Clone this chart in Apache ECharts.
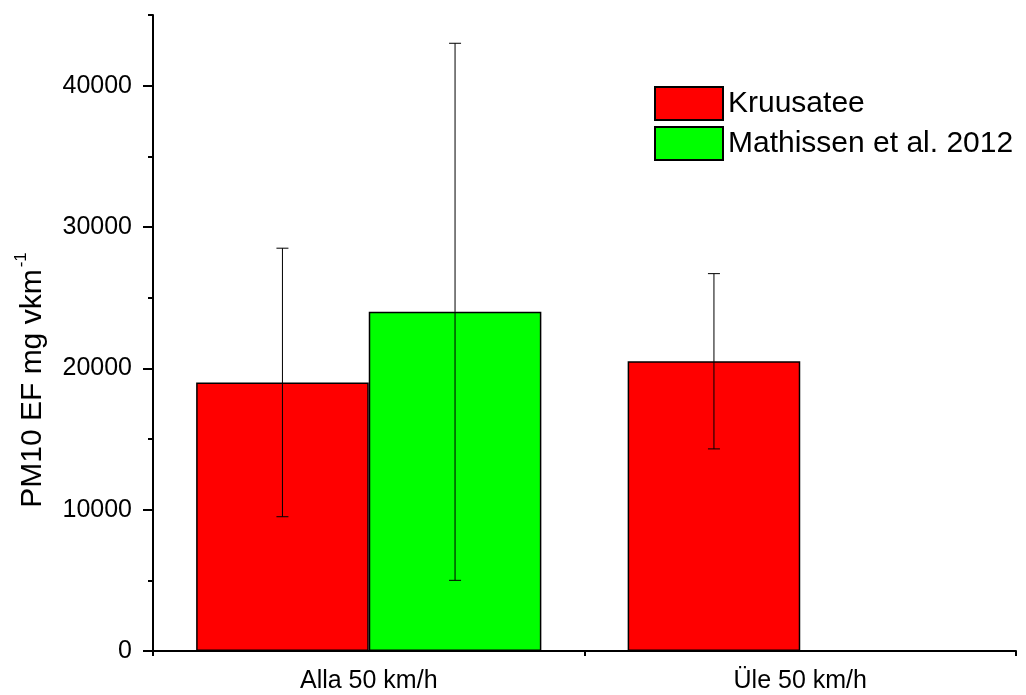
<!DOCTYPE html>
<html>
<head>
<meta charset="utf-8">
<script src="https://cdn.jsdelivr.net/npm/echarts@6/dist/echarts.min.js"></script>
<style>html,body{margin:0;padding:0;background:#fff}#c{width:1026px;height:695px}</style>
</head>
<body>
<div id="c"></div>
<script>
const categories = ['Alla 50 km/h', 'Üle 50 km/h'];
const kruusatee = [19000, 20500];
const kruusateeLow = [9500, 14300];
const kruusateeHigh = [28500, 26700];
const mathissen = [24000, null];
const mathissenLow = [5000, null];
const mathissenHigh = [43000, null];
const yMajorTicks = [0, 10000, 20000, 30000, 40000];
const yMinorTicks = [5000, 15000, 25000, 35000, 45000];
const seriesNames = ['Kruusatee', 'Mathissen et al. 2012'];

const FONT = 'Arial, "Liberation Sans", sans-serif';
const chart = echarts.init(document.getElementById('c'));

function errData(lo, hi) {
  const out = [];
  for (let i = 0; i < lo.length; i++) {
    if (lo[i] != null && hi[i] != null) out.push([i, lo[i], hi[i]]);
  }
  return out;
}
function errSeries(lo, hi, frac) {
  return {
    type: 'custom',
    xAxisIndex: 0, yAxisIndex: 0,
    z: 10,
    silent: true,
    data: errData(lo, hi),
    renderItem: function (params, api) {
      const cat = api.value(0);
      const pLo = api.coord([cat, api.value(1)]);
      const pHi = api.coord([cat, api.value(2)]);
      const catW = api.size([1, 0])[0];
      const x = pLo[0] + frac * catW;
      const cap = 6;
      const st = { stroke: '#000', lineWidth: 1 };
      return {
        type: 'group',
        children: [
          { type: 'line', shape: { x1: x, y1: pLo[1], x2: x, y2: pHi[1] }, style: st },
          { type: 'line', shape: { x1: x - cap, y1: pLo[1], x2: x + cap, y2: pLo[1] }, style: st },
          { type: 'line', shape: { x1: x - cap, y1: pHi[1], x2: x + cap, y2: pHi[1] }, style: st }
        ]
      };
    }
  };
}

const gridPos = { left: 153, right: 10, top: 15, bottom: 44, containLabel: false };

chart.setOption({
  animation: false,
  backgroundColor: '#fff',
  textStyle: { fontFamily: FONT, color: '#000' },
  grid: [Object.assign({}, gridPos), Object.assign({}, gridPos)],
  legend: {
    data: seriesNames,
    orient: 'vertical',
    left: 649, top: 81,
    itemWidth: 68, itemHeight: 33, itemGap: 5,
    icon: 'rect',
    textStyle: { fontSize: 30, color: '#000', fontFamily: FONT }
  },
  xAxis: [
    {
      type: 'category', gridIndex: 0, data: categories,
      axisLine: { lineStyle: { color: '#000', width: 2 } },
      axisTick: { alignWithLabel: true, length: 10, lineStyle: { color: '#000', width: 2 } },
      axisLabel: { fontSize: 25, color: '#000', fontFamily: FONT, margin: 18 },
      splitLine: { show: false }
    },
    {
      type: 'value', gridIndex: 1, min: 0, max: 2, interval: 1,
      axisLine: { show: false },
      axisTick: { length: 5, lineStyle: { color: '#000', width: 2 } },
      axisLabel: { show: false },
      splitLine: { show: false }
    }
  ],
  yAxis: [
    {
      type: 'value', gridIndex: 0, min: 0, max: 45000, interval: 10000,
      axisLine: { show: true, lineStyle: { color: '#000', width: 2 } },
      axisTick: { show: true, length: 10, customValues: yMajorTicks, lineStyle: { color: '#000', width: 2 } },
      axisLabel: {
        fontSize: 25, color: '#000', fontFamily: FONT, margin: 21, customValues: yMajorTicks,
        formatter: function (v) { return String(v); }
      },
      splitLine: { show: false }
    },
    {
      type: 'value', gridIndex: 1, min: 0, max: 45000,
      axisLine: { show: false },
      axisTick: { show: true, length: 5, customValues: yMinorTicks, lineStyle: { color: '#000', width: 2 } },
      axisLabel: { show: false },
      splitLine: { show: false }
    }
  ],
  graphic: [{
    type: 'text',
    x: 33, y: 380,
    rotation: Math.PI / 2,
    style: {
      text: '{a|PM10 EF mg vkm}{b|-1}',
      align: 'center', verticalAlign: 'middle',
      fill: '#000',
      rich: {
        a: { fontSize: 30, fontFamily: FONT, fill: '#000', lineHeight: 40 },
        b: { fontSize: 17, fontFamily: FONT, fill: '#000', verticalAlign: 'top', lineHeight: 40, padding: [0, 0, 0, 2] }
      }
    }
  }],
  series: [
    {
      name: seriesNames[0], type: 'bar', xAxisIndex: 0, yAxisIndex: 0,
      data: kruusatee, barGap: '0%', barCategoryGap: '20%',
      itemStyle: { color: '#ff0000', borderColor: '#000', borderWidth: 1.5 }
    },
    {
      name: seriesNames[1], type: 'bar', xAxisIndex: 0, yAxisIndex: 0,
      data: mathissen, barGap: '0%', barCategoryGap: '20%',
      itemStyle: { color: '#00ff00', borderColor: '#000', borderWidth: 1.5 }
    },
    errSeries(kruusateeLow, kruusateeHigh, -0.2),
    errSeries(mathissenLow, mathissenHigh, 0.2)
  ]
});
</script>
</body>
</html>
